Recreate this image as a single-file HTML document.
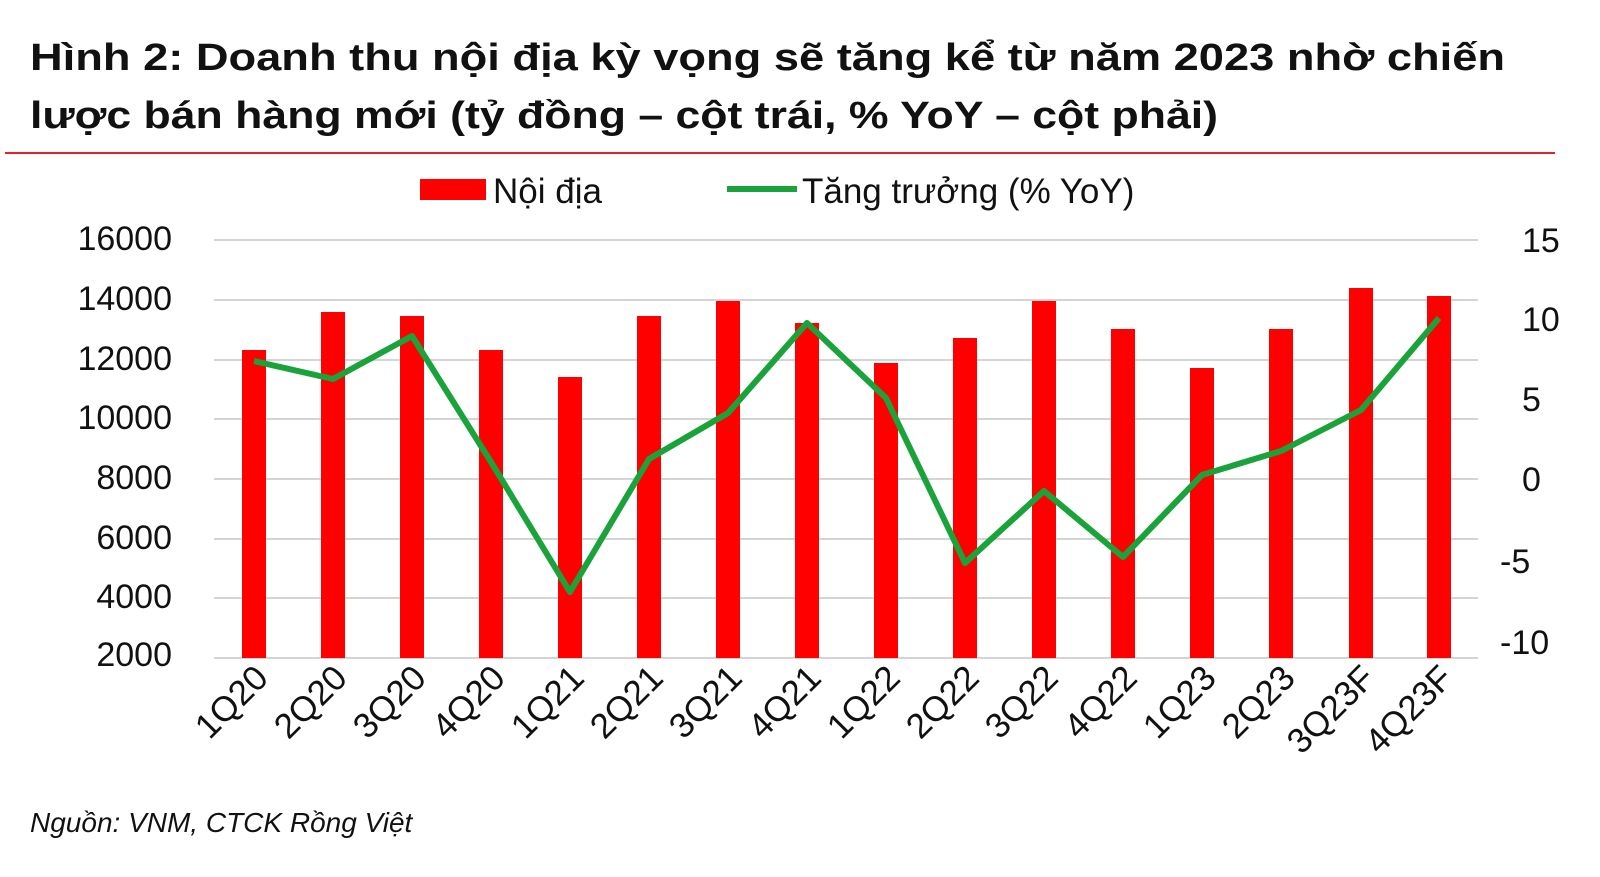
<!DOCTYPE html>
<html><head><meta charset="utf-8"><style>
html,body{margin:0;padding:0;background:#fff;}
svg{display:block;}
text{font-family:"Liberation Sans","DejaVu Sans",sans-serif;fill:#111;}
</style></head><body>
<svg width="1600" height="877" viewBox="0 0 1600 877" xmlns="http://www.w3.org/2000/svg">
<text x="30" y="70" font-size="38" font-weight="bold" textLength="1475" lengthAdjust="spacingAndGlyphs">Hình 2: Doanh thu nội địa kỳ vọng sẽ tăng kể từ năm 2023 nhờ chiến</text>
<text x="30" y="128" font-size="38" font-weight="bold" textLength="1188" lengthAdjust="spacingAndGlyphs">lược bán hàng mới (tỷ đồng – cột trái, % YoY – cột phải)</text>
<rect x="5" y="152" width="1550" height="2" fill="#e8202a"/>
<rect x="420" y="179" width="66" height="21" fill="#ff0000"/>
<text x="493" y="203" font-size="35">Nội địa</text>
<line x1="727" y1="189" x2="797" y2="189" stroke="#1aa33a" stroke-width="6"/>
<text x="802" y="203" font-size="35">Tăng trưởng (% YoY)</text>
<g stroke="#d4d4d4" stroke-width="2">
<line x1="214" y1="240" x2="1478" y2="240"/><line x1="214" y1="300" x2="1478" y2="300"/>
<line x1="214" y1="360" x2="1478" y2="360"/><line x1="214" y1="419" x2="1478" y2="419"/>
<line x1="214" y1="479" x2="1478" y2="479"/><line x1="214" y1="539" x2="1478" y2="539"/>
<line x1="214" y1="598" x2="1478" y2="598"/><line x1="214" y1="658" x2="1478" y2="658"/>
</g>
<g font-size="34" text-anchor="end">
<text x="172" y="250">16000</text><text x="172" y="310">14000</text><text x="172" y="370">12000</text>
<text x="172" y="429">10000</text><text x="172" y="489">8000</text><text x="172" y="549">6000</text>
<text x="172" y="608">4000</text><text x="172" y="666">2000</text>
</g>
<g font-size="34">
<text x="1522" y="252">15</text><text x="1522" y="331">10</text><text x="1522" y="411">5</text>
<text x="1522" y="491">0</text><text x="1500" y="573">-5</text><text x="1500" y="654">-10</text>
</g>
<g fill="#ff0000">
<rect x="242" y="350" width="24" height="308"/>
<rect x="321" y="312" width="24" height="346"/>
<rect x="400" y="316" width="24" height="342"/>
<rect x="479" y="350" width="24" height="308"/>
<rect x="558" y="377" width="24" height="281"/>
<rect x="637" y="316" width="24" height="342"/>
<rect x="716" y="301" width="24" height="357"/>
<rect x="795" y="323" width="24" height="335"/>
<rect x="874" y="363" width="24" height="295"/>
<rect x="953" y="338" width="24" height="320"/>
<rect x="1032" y="301" width="24" height="357"/>
<rect x="1111" y="329" width="24" height="329"/>
<rect x="1190" y="368" width="24" height="290"/>
<rect x="1269" y="329" width="24" height="329"/>
<rect x="1349" y="288" width="24" height="370"/>
<rect x="1427" y="296" width="24" height="362"/>
</g>
<polyline fill="none" stroke="#1aa33a" stroke-width="6" stroke-linejoin="round" points="254,361 333,379 412,336 491,462 570,592 649,459 728,413 807,323 886,398 965,563 1044,491 1123,557 1202,475 1281,451 1361,410 1439,318"/>
<g font-size="35" text-anchor="end">
<text transform="translate(270,680) rotate(-45)">1Q20</text>
<text transform="translate(349,680) rotate(-45)">2Q20</text>
<text transform="translate(428,680) rotate(-45)">3Q20</text>
<text transform="translate(507,680) rotate(-45)">4Q20</text>
<text transform="translate(586,680) rotate(-45)">1Q21</text>
<text transform="translate(665,680) rotate(-45)">2Q21</text>
<text transform="translate(744,680) rotate(-45)">3Q21</text>
<text transform="translate(823,680) rotate(-45)">4Q21</text>
<text transform="translate(902,680) rotate(-45)">1Q22</text>
<text transform="translate(981,680) rotate(-45)">2Q22</text>
<text transform="translate(1060,680) rotate(-45)">3Q22</text>
<text transform="translate(1139,680) rotate(-45)">4Q22</text>
<text transform="translate(1218,680) rotate(-45)">1Q23</text>
<text transform="translate(1297,680) rotate(-45)">2Q23</text>
<text transform="translate(1377,680) rotate(-45)">3Q23F</text>
<text transform="translate(1455,680) rotate(-45)">4Q23F</text>
</g>
<text x="30" y="832" font-size="28" font-style="italic">Nguồn: VNM, CTCK Rồng Việt</text>
</svg>
</body></html>
